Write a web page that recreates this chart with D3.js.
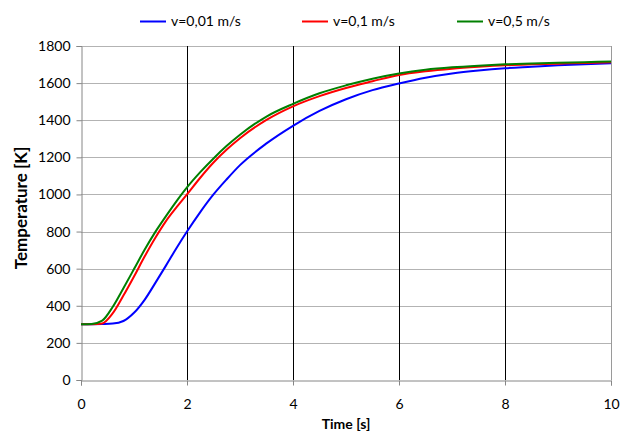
<!DOCTYPE html>
<html><head><meta charset="utf-8">
<script src="https://cdn.jsdelivr.net/npm/d3@7"></script>
<style>body{margin:0;background:#fff}svg{display:block}text{font-family:Lato,"Open Sans",sans-serif;fill:#000}</style>
</head><body>
<svg id="c" width="632" height="433"></svg>
<script>
const time = [0,0.2,0.4,0.6,0.8,1.0,1.2,1.4,1.6,1.8,2.0,2.25,2.5,2.75,3.0,3.5,4.0,4.5,5.0,5.5,6.0,6.5,7.0,7.5,8.0,8.5,9.0,9.5,10];
const v001 = [300,301,302,304,318,362,432,522,615,710,800,905,1000,1082,1158,1275,1370,1450,1513,1562,1598,1629,1652,1668,1680,1688,1696,1702,1707];
const v01  = [300,301,305,360,455,558,665,765,855,930,1000,1090,1172,1242,1303,1402,1475,1530,1574,1610,1644,1664,1678,1688,1696,1701,1705,1709,1712];
const v05  = [300,302,320,395,495,598,702,797,882,963,1038,1120,1194,1262,1322,1420,1488,1545,1588,1624,1652,1672,1685,1694,1701,1706,1710,1713,1716];
const seriesNames = ["v=0,01 m/s","v=0,1 m/s","v=0,5 m/s"];
const seriesColors = ["#0000ff","#ff0000","#008000"];
const seriesValues = [v001, v01, v05];
const xTicks = [0,2,4,6,8,10];
const yTicks = [0,200,400,600,800,1000,1200,1400,1600,1800];

const svg = d3.select("#c");
const L=81, R=611, T=46, B=380;
const x = d3.scaleLinear().domain([0,10]).range([L,R]);
const y = d3.scaleLinear().domain([0,1800]).range([B,T]);

// horizontal gridlines
svg.append("g").selectAll("line").data(yTicks.filter(d=>d>0)).join("line")
  .attr("x1",L).attr("x2",R).attr("y1",d=>Math.round(y(d))+0.5).attr("y2",d=>Math.round(y(d))+0.5)
  .attr("stroke","#b3b3b3").attr("stroke-width",1.2);
// vertical gridlines
svg.append("g").selectAll("line").data(xTicks.filter(d=>d>0&&d<10)).join("line")
  .attr("x1",d=>Math.round(x(d))+0.5).attr("x2",d=>Math.round(x(d))+0.5).attr("y1",T).attr("y2",B)
  .attr("stroke","#000").attr("stroke-width",1);
// right border
svg.append("line").attr("x1",R+0.5).attr("x2",R+0.5).attr("y1",T).attr("y2",B).attr("stroke","#9a9a9a");

// axes
const xa = svg.append("g").attr("transform",`translate(0,${B+0.5})`)
  .call(d3.axisBottom(x).tickValues(xTicks).tickSize(5).tickPadding(14).tickFormat(d3.format("d")));
const ya = svg.append("g").attr("transform",`translate(${L+0.5},0)`)
  .call(d3.axisLeft(y).tickValues(yTicks).tickSize(5).tickPadding(6).tickFormat(d3.format("d")));
[xa,ya].forEach(a=>{
  a.select(".domain").attr("stroke","#868686");
  a.selectAll(".tick line").attr("stroke","#868686");
  a.selectAll(".tick text").attr("font-size",14).attr("font-family","Lato,'Open Sans',sans-serif").attr("fill","#000");
});
xa.selectAll(".tick text").attr("dy","0.71em");

// lines
const line = d3.line().x((d,i)=>x(time[i])).y(d=>y(d)).curve(d3.curveMonotoneX);
seriesValues.forEach((vals,k)=>{
  svg.append("path").datum(vals).attr("d",line).attr("fill","none")
    .attr("stroke",seriesColors[k]).attr("stroke-width",2);
});

// axis titles
svg.append("text").attr("x",346).attr("y",429).attr("text-anchor","middle")
  .attr("font-size",14).attr("font-weight","bold").text("Time [s]");
svg.append("text").attr("transform","translate(27,208) rotate(-90)").attr("text-anchor","middle")
  .attr("font-size",17).attr("font-weight","bold").text("Temperature [K]");

// legend
const legX = [140,302,457];
seriesNames.forEach((n,k)=>{
  const g = svg.append("g");
  g.append("line").attr("x1",legX[k]).attr("x2",legX[k]+26).attr("y1",21.5).attr("y2",21.5)
    .attr("stroke",seriesColors[k]).attr("stroke-width",2);
  g.append("text").attr("x",legX[k]+31).attr("y",21.5).attr("dy","0.35em").attr("font-size",14).text(n);
});
</script>
</body></html>
